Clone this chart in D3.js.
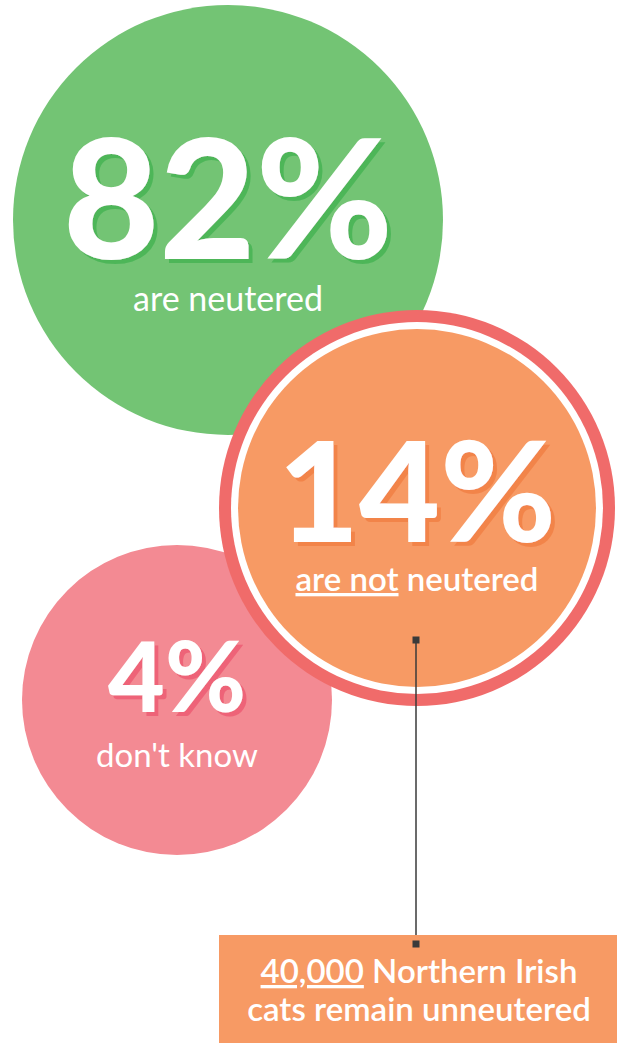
<!DOCTYPE html>
<html><head><meta charset="utf-8">
<script src="https://cdn.jsdelivr.net/npm/d3@7"></script>
<style>html,body{margin:0;padding:0;background:#fff;}svg{display:block;}</style>
</head><body>
<svg id="c" width="617" height="1043"></svg>
<script>
const categories = ["are neutered", "are not neutered", "don't know"];
const values = [82, 14, 4];
const calloutNumber = "40,000";
const calloutLines = ["Northern Irish", "cats remain unneutered"];

const svg = d3.select("#c");
const fmt = d => d + "%";

// layout (positions/styles kept out of data)
const layout = [
  {cx: 228, cy: 220, r: 215, fill: "#73C474", shadow: "#4DB659", numSize: 166, numY: 259, labY: 311, labSize: 34, labWeight: 400},
  {cx: 417, cy: 508, r: 179, fill: "#F79A64", shadow: "#F2844A", numSize: 140, numY: 542, labY: 591, labSize: 33, labWeight: 600, ring: true},
  {cx: 177, cy: 700, r: 155, fill: "#F38A93", shadow: "#EE6478", numSize: 98, numY: 712, labY: 767, labSize: 33, labWeight: 400}
];

const defs = svg.append("defs");
layout.forEach((L, i) => {
  const f = defs.append("filter").attr("id", "sh" + i)
    .attr("x", "-10%").attr("y", "-10%").attr("width", "130%").attr("height", "130%");
  f.append("feOffset").attr("in", "SourceAlpha").attr("dx", 4).attr("dy", 4).attr("result", "off");
  f.append("feFlood").attr("flood-color", L.shadow).attr("result", "col");
  f.append("feComposite").attr("in", "col").attr("in2", "off").attr("operator", "in").attr("result", "shadow");
  const m = f.append("feMerge");
  m.append("feMergeNode").attr("in", "shadow");
  m.append("feMergeNode").attr("in", "SourceGraphic");
});

const font = "Lato, 'Open Sans', sans-serif";
const drawOrder = [0, 2, 1];
drawOrder.forEach(i => {
  const L = layout[i];
  const g = svg.append("g");
  if (L.ring) {
    g.append("circle").attr("cx", L.cx).attr("cy", L.cy).attr("r", L.r + 19).attr("fill", "#F06B6A");
    g.append("circle").attr("cx", L.cx).attr("cy", L.cy).attr("r", L.r + 7).attr("fill", "#fff");
  }
  g.append("circle").attr("cx", L.cx).attr("cy", L.cy).attr("r", L.r).attr("fill", L.fill);
});

drawOrder.forEach(i => {
  const L = layout[i];
  const g = svg.append("g").attr("font-family", font);
  g.append("text").attr("x", L.cx).attr("y", L.numY)
    .attr("text-anchor", "middle").attr("font-size", L.numSize).attr("font-weight", 900)
    .attr("fill", "#fff").attr("filter", `url(#sh${i})`).text(fmt(values[i]));
  const t = g.append("text").attr("x", L.cx).attr("y", L.labY)
    .attr("text-anchor", "middle").attr("font-size", L.labSize).attr("font-weight", L.labWeight)
    .attr("fill", "#fff");
  if (i === 1) {
    const parts = categories[i].split(" ");
    t.append("tspan").attr("text-decoration", "underline").text(parts.slice(0, 2).join(" "));
    t.append("tspan").text(" " + parts.slice(2).join(" "));
  } else {
    t.text(categories[i]);
  }
});

// connector and callout box
const lx = 416, y0 = 640, y1 = 944;
svg.append("line").attr("x1", lx).attr("x2", lx).attr("y1", y0).attr("y2", y1)
  .attr("stroke", "#3a3a3a").attr("stroke-width", 1.5);
svg.append("rect").attr("x", 219).attr("y", 935).attr("width", 398).attr("height", 108).attr("fill", "#F79A64");
[y0, y1].forEach(y => svg.append("rect").attr("x", lx - 3.5).attr("y", y - 3.5).attr("width", 7).attr("height", 7).attr("fill", "#3a3a3a"));

const bt = svg.append("g").attr("font-family", font).attr("font-size", 33).attr("font-weight", 600).attr("fill", "#fff").attr("text-anchor", "middle");
const t1 = bt.append("text").attr("x", 419).attr("y", 983);
t1.append("tspan").attr("text-decoration", "underline").text(calloutNumber);
t1.append("tspan").text(" " + calloutLines[0]);
bt.append("text").attr("x", 419).attr("y", 1021).text(calloutLines[1]);
</script>
</body></html>
